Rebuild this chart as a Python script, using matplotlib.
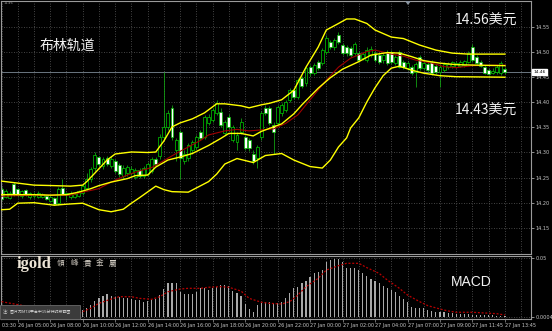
import numpy as np
import matplotlib
matplotlib.use("Agg")
import matplotlib.pyplot as plt
from matplotlib import transforms
from matplotlib.patches import Rectangle, Polygon

# ---------------- data (15-minute bars) ----------------
opens = [14.228,14.212,14.210,14.238,14.228,14.214,14.226,14.212,14.214,14.212,
         14.212,14.214,14.204,14.210,14.200,14.230,14.216,14.212,14.212,14.214,
         14.220,14.230,14.248,14.270,14.292,14.274,14.290,14.274,14.284,14.276,
         14.254,14.260,14.260,14.252,14.266,14.254,14.258,14.264,14.288,14.294,
         14.330,14.350,14.388,14.304,14.340,14.284,14.290,14.304,14.310,14.340,
         14.330,14.358,14.364,14.378,14.380,14.338,14.370,14.324,14.320,14.340,
         14.330,14.324,14.298,14.290,14.330,14.388,14.388,14.354,14.358,14.378,
         14.384,14.404,14.424,14.410,14.448,14.438,14.470,14.458,14.480,14.478,
         14.500,14.520,14.510,14.534,14.514,14.510,14.508,14.498,14.498,14.488,
         14.484,14.494,14.498,14.494,14.484,14.500,14.500,14.478,14.500,14.480,
         14.468,14.470,14.460,14.490,14.468,14.476,14.480,14.472,14.460,14.464,
         14.470,14.472,14.470,14.472,14.474,14.480,14.510,14.490,14.480,14.470,
         14.464,14.458,14.460,14.458,14.466]
closes = [14.208,14.224,14.220,14.218,14.216,14.224,14.216,14.220,14.218,14.220,
          14.218,14.208,14.212,14.198,14.228,14.218,14.220,14.220,14.218,14.224,
          14.234,14.248,14.268,14.296,14.278,14.288,14.278,14.288,14.264,14.258,
          14.270,14.272,14.268,14.266,14.254,14.270,14.278,14.288,14.278,14.330,
          14.350,14.378,14.330,14.324,14.290,14.298,14.314,14.320,14.330,14.328,
          14.370,14.370,14.384,14.398,14.354,14.360,14.350,14.350,14.334,14.360,
          14.308,14.308,14.284,14.310,14.378,14.378,14.358,14.340,14.390,14.394,
          14.400,14.424,14.410,14.444,14.432,14.468,14.458,14.474,14.468,14.504,
          14.528,14.510,14.524,14.520,14.498,14.498,14.494,14.516,14.484,14.496,
          14.504,14.506,14.484,14.480,14.494,14.478,14.480,14.490,14.470,14.470,
          14.478,14.458,14.476,14.468,14.478,14.464,14.458,14.460,14.470,14.476,
          14.476,14.480,14.478,14.480,14.482,14.498,14.484,14.478,14.472,14.458,
          14.456,14.462,14.470,14.478,14.460]
highs = [14.232,14.228,14.224,14.242,14.230,14.226,14.228,14.222,14.222,14.224,
         14.220,14.216,14.214,14.212,14.232,14.248,14.222,14.224,14.222,14.226,
         14.238,14.260,14.272,14.300,14.294,14.292,14.294,14.294,14.288,14.280,
         14.276,14.276,14.274,14.270,14.270,14.274,14.282,14.292,14.292,14.336,
         14.460,14.384,14.394,14.328,14.344,14.304,14.318,14.324,14.334,14.344,
         14.374,14.376,14.388,14.404,14.388,14.364,14.376,14.354,14.340,14.368,
         14.334,14.328,14.304,14.314,14.382,14.394,14.392,14.360,14.394,14.398,
         14.404,14.428,14.428,14.448,14.452,14.472,14.474,14.478,14.484,14.508,
         14.534,14.524,14.528,14.540,14.518,14.514,14.512,14.520,14.502,14.500,
         14.510,14.512,14.502,14.498,14.498,14.504,14.504,14.494,14.504,14.484,
         14.482,14.474,14.480,14.494,14.482,14.480,14.484,14.476,14.476,14.480,
         14.480,14.482,14.482,14.484,14.484,14.502,14.516,14.494,14.484,14.474,
         14.468,14.468,14.474,14.482,14.470]
lows = [14.206,14.210,14.208,14.214,14.212,14.210,14.214,14.208,14.210,14.210,
        14.210,14.206,14.202,14.196,14.196,14.216,14.206,14.208,14.210,14.212,
        14.216,14.226,14.242,14.264,14.274,14.268,14.274,14.270,14.260,14.252,
        14.248,14.254,14.256,14.248,14.250,14.250,14.254,14.260,14.274,14.288,
        14.324,14.344,14.324,14.284,14.248,14.278,14.284,14.298,14.306,14.324,
        14.326,14.354,14.360,14.374,14.350,14.334,14.346,14.320,14.304,14.336,
        14.304,14.302,14.278,14.270,14.324,14.374,14.354,14.298,14.354,14.372,
        14.380,14.400,14.406,14.406,14.428,14.432,14.452,14.454,14.464,14.474,
        14.496,14.506,14.504,14.516,14.494,14.492,14.490,14.494,14.480,14.484,
        14.480,14.490,14.480,14.476,14.478,14.474,14.476,14.474,14.468,14.466,
        14.464,14.454,14.430,14.464,14.464,14.460,14.454,14.456,14.430,14.460,
        14.466,14.468,14.468,14.470,14.470,14.478,14.480,14.476,14.470,14.456,
        14.454,14.456,14.456,14.454,14.456]

# Bollinger bands (bar index, price)
upper_idx = [0,2,5,8,13,17,20,21,23,26,28,32,36,38,40,42,44,47,50,53,55,59,61,64,66,69,72,75,78,80,83,85,87,90,92,96,99,103,107,111,115,124]
upper_val = [14.243,14.241,14.238,14.235,14.234,14.233,14.235,14.242,14.259,14.285,14.297,14.301,14.300,14.301,14.323,14.351,14.359,14.367,14.379,14.397,14.397,14.393,14.389,14.395,14.398,14.405,14.424,14.470,14.510,14.544,14.557,14.566,14.566,14.557,14.544,14.530,14.527,14.514,14.504,14.498,14.496,14.496]
mid_idx = [0,4,8,12,16,19,22,24,27,31,33,36,38,41,44,47,51,54,56,59,62,64,67,69,72,74,78,81,84,88,91,95,98,101,104,108,112,117,124]
mid_val = [14.216,14.216,14.216,14.215,14.216,14.221,14.228,14.234,14.241,14.248,14.254,14.255,14.271,14.285,14.291,14.298,14.314,14.328,14.338,14.338,14.333,14.342,14.351,14.357,14.377,14.395,14.428,14.449,14.466,14.481,14.494,14.499,14.498,14.491,14.483,14.478,14.475,14.474,14.473]
lower_idx = [0,2,4,8,13,16,20,24,27,30,32,34,38,40,42,46,51,53,55,58,62,65,69,72,76,79,81,83,85,86,88,90,92,94,96,98,101,104,108,112,124]
lower_val = [14.186,14.187,14.199,14.200,14.195,14.197,14.199,14.186,14.182,14.187,14.199,14.210,14.233,14.226,14.222,14.221,14.242,14.257,14.277,14.288,14.280,14.294,14.298,14.285,14.272,14.269,14.285,14.311,14.329,14.349,14.369,14.401,14.429,14.453,14.468,14.472,14.464,14.458,14.453,14.451,14.450]
# red moving average
ma_idx = [0,8,17,20,24,27,30,33,37,40,43,46,49,51,55,58,61,64,67,70,73,76,80,83,86,90,92,96,99,102,106,109,112,116,124]
ma_val = [14.213,14.215,14.215,14.221,14.228,14.241,14.252,14.261,14.270,14.284,14.298,14.311,14.324,14.335,14.343,14.346,14.343,14.345,14.347,14.358,14.375,14.405,14.444,14.470,14.488,14.501,14.504,14.496,14.492,14.484,14.478,14.471,14.469,14.473,14.474]

# MACD histogram per bar and signal line
macd_hist = [0.010,0.0095,0.009,0.0085,0.008,0.0075,0.007,0.0065,0.006,0.0055,
             0.005,0.0045,0.004,0.0035,0.003,0.003,0.0035,0.004,0.0045,0.005,
             0.0059,0.0079,0.0102,0.0136,0.0164,0.018,0.0192,0.018,0.0172,0.0172,
             0.0164,0.0158,0.0153,0.0144,0.0144,0.013,0.0136,0.0144,0.015,0.0186,
             0.0234,0.0285,0.0285,0.0285,0.0215,0.0192,0.0192,0.0192,0.0215,0.0243,
             0.0243,0.0229,0.0249,0.0257,0.0271,0.0271,0.0265,0.022,0.020,0.018,
             0.0107,0.0068,0.0045,0.0102,0.0116,0.013,0.013,0.0121,0.0116,0.013,
             0.0164,0.020,0.0243,0.0257,0.0285,0.0305,0.0342,0.037,0.0378,0.0398,
             0.0463,0.0483,0.0491,0.0491,0.0463,0.0418,0.0412,0.0418,0.0398,0.037,
             0.035,0.0322,0.0305,0.0285,0.0265,0.0249,0.0229,0.0209,0.018,0.0153,
             0.013,0.0088,0.0079,0.0073,0.0073,0.0059,0.0051,0.0045,0.004,0.004,
             0.0031,0.003,0.0028,0.0025,0.0025,0.0022,0.002,0.002,0.0018,0.0018,
             0.0015,0.0015,0.0012,0.0012,0.001]
sig_idx = [0,4,8,12,16,19,22,24,27,29,32,34,37,39,41,44,46,49,51,54,56,59,61,64,66,69,71,73,75,78,80,83,85,88,90,93,95,98,100,103,105,108,110,112,116,119,122,124]
sig_val = [0.013,0.0105,0.008,0.006,0.0042,0.0031,0.0074,0.0116,0.0152,0.0172,0.0172,0.0158,0.015,0.0172,0.0214,0.0237,0.0243,0.0243,0.0252,0.0257,0.0252,0.022,0.0158,0.0125,0.0116,0.011,0.013,0.0186,0.0257,0.0328,0.0398,0.0435,0.0455,0.0455,0.0418,0.037,0.0314,0.0243,0.0186,0.013,0.0096,0.0068,0.0051,0.004,0.004,0.0034,0.0028,0.0017]

price_ticks = [14.15, 14.20, 14.25, 14.30, 14.35, 14.40, 14.45, 14.50, 14.55]
time_pos = [-4, 4, 12, 20, 28, 36, 44, 52, 60, 68, 76, 84, 92, 100, 108, 116, 124]
time_labels = ["26 Jan 03:30", "26 Jan 05:00", "26 Jan 08:00", "26 Jan 10:00", "26 Jan 12:00",
               "26 Jan 14:00", "26 Jan 16:00", "26 Jan 18:00", "26 Jan 20:00", "26 Jan 22:00",
               "27 Jan 00:00", "27 Jan 02:00", "27 Jan 04:00", "27 Jan 07:00", "27 Jan 09:00",
               "27 Jan 11:45", "27 Jan 13:45"]
macd_ticks = [0.0004, 0.05]

# ---------------- layout ----------------
W, H = 552, 331
CJK = ['Noto Sans CJK SC', 'DejaVu Sans']
fig = plt.figure(figsize=(W / 100, H / 100), dpi=100, facecolor='black')

def box(x0, y0, x1, y1):
    return [x0 / W, 1 - y1 / H, (x1 - x0) / W, (y1 - y0) / H]

def fx(px):
    return px / W

def fy(py):
    return 1 - py / H

X0, DX = 1.5, 4.06  # pixel of bar 0, pixel step per bar
xlim = ((1 - X0) / DX, (531 - X0) / DX)

ax = fig.add_axes(box(1, 1, 531, 254))
axm = fig.add_axes(box(1, 256, 531, 319))

GRID = '#5c5c5c'
SPINE = '#9a9a9a'
LBL = '#c8c8c8'

for a in (ax, axm):
    a.set_facecolor('black')
    a.set_xlim(*xlim)
    for s in a.spines.values():
        s.set_color(SPINE)
        s.set_linewidth(0.8)
    a.set_xticks(np.arange(4, 125, 8))
    a.set_xticks(np.arange(0, 131, 4), minor=True)
    a.grid(True, which='both', color=GRID, linestyle=(0, (1, 2)), linewidth=0.6)
    a.set_axisbelow(True)
    a.yaxis.tick_right()
    a.tick_params(axis='y', colors=LBL, labelsize=3.6, length=2, width=0.5, pad=1)
    a.tick_params(axis='x', which='both', labelbottom=False, length=0)

# ---------------- price panel ----------------
o = np.array(opens); c = np.array(closes); hi = np.array(highs); lo = np.array(lows)
x = np.arange(len(o))
ax.set_ylim(14.0978, 14.6018)
ax.set_yticks(price_ticks)
ax.set_yticklabels([f"{v:.2f}" for v in price_ticks])

ax.vlines(x, lo, hi, color='#12a012', linewidth=0.6, zorder=2)
bull = c >= o
ax.bar(x[bull], np.maximum(c - o, 0.0006)[bull], bottom=o[bull], width=0.72,
       color='black', edgecolor='#00d000', linewidth=0.5, zorder=2.5)
ax.bar(x[~bull], (o - c)[~bull], bottom=c[~bull], width=0.72,
       color='white', edgecolor='#00c000', linewidth=0.5, zorder=2.5)

ax.plot(ma_idx, ma_val, color='#a00000', linewidth=0.8, zorder=3)
for bi, bv in ((upper_idx, upper_val), (mid_idx, mid_val), (lower_idx, lower_val)):
    ax.plot(bi, bv, color='#ffff00', linewidth=1.0, zorder=3.2)

last = closes[-1]
ax.axhline(last, color='#7d8a96', linewidth=0.6, zorder=1.5)
ax.text(1.004, last, f"{last:.2f}", transform=transforms.blended_transform_factory(ax.transAxes, ax.transData),
        fontsize=3.2, color='black', va='center', ha='left',
        bbox=dict(boxstyle='square,pad=0.25', facecolor='white', edgecolor='white'))

# ---------------- MACD panel ----------------
axm.set_ylim(-0.0017, 0.0517)
axm.set_yticks(macd_ticks)
axm.set_yticklabels([f"{v:g}" for v in macd_ticks])
axm.bar(x, macd_hist, width=0.28, color='#a9a9a9', linewidth=0, zorder=2)
axm.plot(sig_idx, sig_val, color='#b80000', linestyle=(0, (1.6, 1.4)), linewidth=0.9, zorder=3)
axm.tick_params(axis='x', which='major', length=2, width=0.5, colors=SPINE, direction='out')

ttrans = transforms.blended_transform_factory(axm.transData, fig.transFigure)
for p, t in zip(time_pos, time_labels):
    fig.text(p, fy(325.5), t, transform=ttrans, fontsize=3.5, color=LBL, ha='left', va='center')

# ---------------- annotations ----------------
fig.text(fx(67), fy(46), "布林轨道", family=CJK, fontsize=10, color='#f2f2f2', ha='center', va='center')
fig.text(fx(486), fy(21), "14.56美元", family=CJK, fontsize=10, color='#f2f2f2', ha='center', va='center')
fig.text(fx(486), fy(111), "14.43美元", family=CJK, fontsize=10, color='#f2f2f2', ha='center', va='center')
fig.text(fx(471), fy(282.5), "MACD", family=['Liberation Sans', 'DejaVu Sans'], fontsize=10,
         color='#f2f2f2', ha='center', va='center')
fig.text(fx(4), fy(3.5), "14.46", fontsize=2.4, color='#9a9a9a', ha='left', va='center')

# igold logo
fig.text(fx(17), fy(268), "igold", family=['Liberation Serif', 'DejaVu Serif'], fontweight='bold',
         fontsize=12, color='#ece4d6', ha='left', va='baseline')
for cx, ch in zip([61, 74, 87, 100, 113], "領峰貴金屬"):
    fig.text(fx(cx), fy(263.5), ch, family=['Noto Sans CJK TC', 'DejaVu Sans'], fontsize=5.5,
             color='#d8d2c8', ha='center', va='center')

# note box
fig.add_artist(Rectangle((fx(0), fy(318.5)), fx(80), (318.5 - 304.5) / H, transform=fig.transFigure,
                         facecolor='#3b3b3b', edgecolor='#6a6a6a', linewidth=0.6, zorder=5))
fig.text(fx(3), fy(311.5), "注：图片为MT4平台中15分钟时段截图", family=CJK, fontsize=2.9,
         color='#d6d6d6', ha='left', va='center', zorder=6)

# chart-shift marker at top
fig.add_artist(Polygon([[fx(405), fy(1)], [fx(411), fy(1)], [fx(408), fy(5)]], closed=True,
                       transform=fig.transFigure, facecolor='#8a94a0', edgecolor='none', zorder=5))

fig.savefig('out.png', dpi=100, facecolor='black')
